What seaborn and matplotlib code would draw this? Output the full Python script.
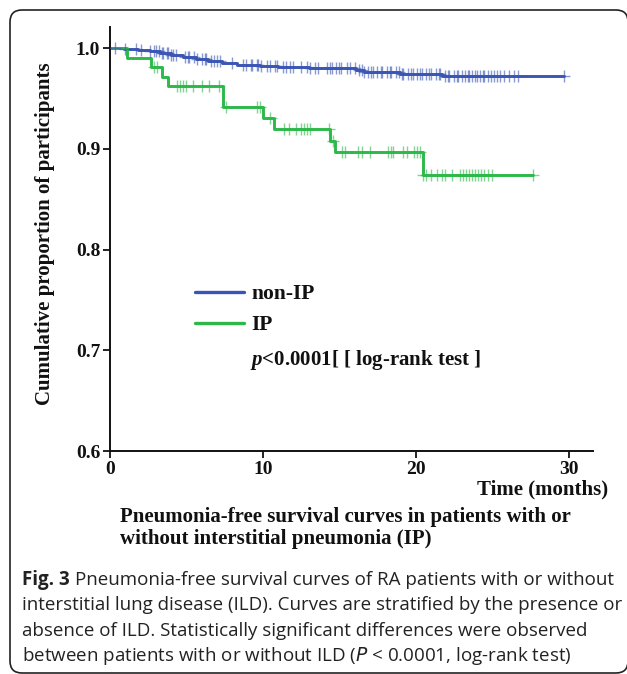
import numpy as np
import pandas as pd
import matplotlib
matplotlib.use("Agg")
import matplotlib.pyplot as plt
import seaborn as sns
from matplotlib.patches import FancyBboxPatch
from matplotlib.transforms import IdentityTransform

# ---------------- data ----------------
group_names = ["non-IP", "IP"]

nonip_times = [0, 0.9, 1.8, 2.6, 3.3, 4.0, 4.8, 5.6, 6.4, 7.3, 8.3, 9.8, 11.0, 13.0, 16.1, 16.6, 19.0, 21.7, 29.7]
nonip_surv = [1.0, 0.999, 0.998, 0.997, 0.995, 0.993, 0.991, 0.989, 0.987, 0.985, 0.983, 0.982, 0.981, 0.980,
              0.978, 0.976, 0.974, 0.972, 0.972]

ip_times = [0, 1.1, 2.7, 3.4, 3.8, 7.4, 10.0, 10.7, 14.4, 14.7, 20.5, 27.7]
ip_surv = [1.0, 0.990, 0.981, 0.971, 0.962, 0.942, 0.931, 0.920, 0.908, 0.897, 0.874, 0.874]

nonip_censor = [0.3, 1.0, 1.7, 2.0, 2.6, 2.9, 3.0, 3.2, 3.4, 3.5, 3.7, 3.8, 4.0, 4.1, 4.3, 4.9, 5.1, 5.2, 5.5,
                5.7, 6.0, 6.2, 6.3, 6.6, 6.8, 7.0, 7.2, 8.0, 8.7, 8.9, 9.2, 9.3, 9.6, 9.7, 9.9, 10.3, 10.5,
                10.8, 10.9, 11.3, 11.5, 11.8, 12.0, 12.5, 12.9, 13.1, 13.4, 13.6, 14.2, 14.4, 14.5, 14.8, 15.0,
                15.1, 15.5, 15.7, 16.0, 16.3, 16.5, 16.6, 16.9, 17.1, 17.2, 17.5, 17.7, 17.8, 18.1, 18.3, 18.4,
                18.7, 18.9, 19.1, 19.2, 19.5, 19.7, 19.8, 20.1, 20.3, 20.4, 20.7, 20.9, 21.0, 21.3, 21.5, 21.6,
                21.9, 22.1, 22.2, 22.5, 22.7, 22.8, 23.0, 23.2, 23.4, 23.5, 23.7, 23.9, 24.0, 24.2, 24.4, 24.5,
                24.7, 24.9, 25.1, 25.3, 25.5, 25.8, 26.1, 26.4, 26.7, 29.7]
ip_censor = [2.9, 3.1, 4.4, 4.6, 4.8, 5.0, 5.4, 6.0, 6.5, 7.1, 7.6, 9.6, 9.8, 10.5, 11.4, 11.7, 12.2, 12.5,
             12.7, 12.9, 13.1, 14.3, 14.6, 15.2, 15.4, 16.2, 16.5, 17.0, 18.2, 18.4, 18.5, 19.2, 19.4, 19.9,
             20.1, 20.3, 20.5, 20.7, 21.0, 21.4, 21.7, 21.9, 22.4, 22.9, 23.1, 23.3, 23.5, 23.7, 23.9, 24.1,
             24.3, 24.5, 24.7, 25.0, 27.7]

x_ticks = [0, 10, 20, 30]
y_ticks = [0.6, 0.7, 0.8, 0.9, 1.0]
y_tick_labels = ["0.6", "0.7", "0.8", "0.9", "1.0"]

colors = {"non-IP": "#3a55b4", "IP": "#2db84a"}

# ---------------- build frames ----------------
curves = pd.concat([
    pd.DataFrame({"time": nonip_times, "surv": nonip_surv, "group": "non-IP"}),
    pd.DataFrame({"time": ip_times, "surv": ip_surv, "group": "IP"}),
], ignore_index=True)


def surv_at(times, surv, t):
    idx = np.searchsorted(np.asarray(times), np.asarray(t), side="right") - 1
    return np.asarray(surv)[idx]


cens = pd.concat([
    pd.DataFrame({"time": nonip_censor, "surv": surv_at(nonip_times, nonip_surv, nonip_censor), "group": "non-IP"}),
    pd.DataFrame({"time": ip_censor, "surv": surv_at(ip_times, ip_surv, ip_censor), "group": "IP"}),
], ignore_index=True)

# ---------------- figure ----------------
sns.set_style("ticks")
serif = ["Liberation Serif", "DejaVu Serif"]
plt.rcParams["font.family"] = serif
plt.rcParams["mathtext.fontset"] = "custom"
plt.rcParams["mathtext.it"] = "Liberation Serif:italic:bold"
plt.rcParams["mathtext.rm"] = "Liberation Serif:bold"

W, H = 627, 674
fig = plt.figure(figsize=(W / 100, H / 100), dpi=100)
ax = fig.add_axes([110 / W, (H - 451) / H, (593 - 110) / W, (451 - 27) / H])

sns.lineplot(data=curves, x="time", y="surv", hue="group", hue_order=group_names, palette=colors,
             drawstyle="steps-post", linewidth=2.1, ax=ax, legend=True, estimator=None)
sns.scatterplot(data=cens, x="time", y="surv", hue="group", hue_order=group_names, palette=colors,
                marker="+", s=75, linewidth=1.0, alpha=0.6, ax=ax, legend=False, zorder=3)

ax.set_xlim(0, 31.6)
ax.set_ylim(0.6, 1.021)
ax.set_xticks(x_ticks)
ax.set_xticklabels([str(v) for v in x_ticks])
ax.set_yticks(y_ticks)
ax.set_yticklabels(y_tick_labels)
ax.tick_params(axis="both", direction="out", length=5, width=1.3, color="#111111",
               labelsize=14, pad=2)
for lab in ax.get_xticklabels() + ax.get_yticklabels():
    lab.set_fontweight("bold")
    lab.set_color("#111111")
sns.despine(ax=ax)
for s in ["left", "bottom"]:
    ax.spines[s].set_linewidth(1.4)
    ax.spines[s].set_color("#111111")
ax.set_xlabel("")
ax.set_ylabel("")

# axis labels
fig.text(608 / W, 1 - 489 / H, "Time (months)", ha="right", va="center", fontsize=15,
         fontweight="bold", color="#111111")
fig.text(45 / W, 1 - 234 / H, "Cumulative proportion of participants", ha="center", va="center",
         rotation=90, fontsize=15, fontweight="bold", color="#111111")

# legend
handles, labels = ax.get_legend_handles_labels()
for h in handles:
    h.set_linewidth(2.4)
leg = ax.legend(handles, labels, loc="upper left", bbox_to_anchor=(0.175, 0.393), frameon=False,
                prop={"family": serif, "weight": "bold", "size": 15.5}, handlelength=2.3,
                handletextpad=0.35, labelspacing=0.5, borderpad=0, borderaxespad=0)
for t in leg.get_texts():
    t.set_color("#111111")

ax.text(9.15, 0.69, r"$p$<0.0001[ [ log-rank test ]", fontsize=15, fontweight="bold",
        ha="left", va="center", color="#111111")

# chart title below axes
fig.text(120 / W, 1 - 528 / H, "Pneumonia-free survival curves in patients with or\nwithout interstitial pneumonia (IP)",
         ha="left", va="center", fontsize=15, fontweight="bold", color="#111111", linespacing=1.12)

# caption
cap_size = 13.5
cap_font = ["Open Sans", "DejaVu Sans"]
fy = [580, 605, 631, 656]
t0 = fig.text(22 / W, 1 - fy[0] / H, "Fig. 3", ha="left", va="center", fontsize=cap_size,
              fontweight="bold", family=cap_font, color="#222222")
fig.canvas.draw()
bb = t0.get_window_extent()
fig.text((bb.x1 + 5) / W, 1 - fy[0] / H, "Pneumonia-free survival curves of RA patients with or without",
         ha="left", va="center", fontsize=cap_size, family=cap_font, color="#222222")
fig.text(22 / W, 1 - fy[1] / H, "interstitial lung disease (ILD). Curves are stratified by the presence or",
         ha="left", va="center", fontsize=cap_size, family=cap_font, color="#222222")
fig.text(22 / W, 1 - fy[2] / H, "absence of ILD. Statistically significant differences were observed",
         ha="left", va="center", fontsize=cap_size, family=cap_font, color="#222222")
fig.text(22 / W, 1 - fy[3] / H, r"between patients with or without ILD ($P$ < 0.0001, log-rank test)",
         ha="left", va="center", fontsize=cap_size, family=cap_font, color="#222222",
         math_fontfamily="dejavusans")

# rounded frame
box = FancyBboxPatch((10, 1), 618, 663, boxstyle="round,pad=0,rounding_size=12",
                     transform=IdentityTransform(), fill=False, edgecolor="#222222", linewidth=1.2)
fig.patches.append(box)

fig.savefig("out.png", dpi=100)
